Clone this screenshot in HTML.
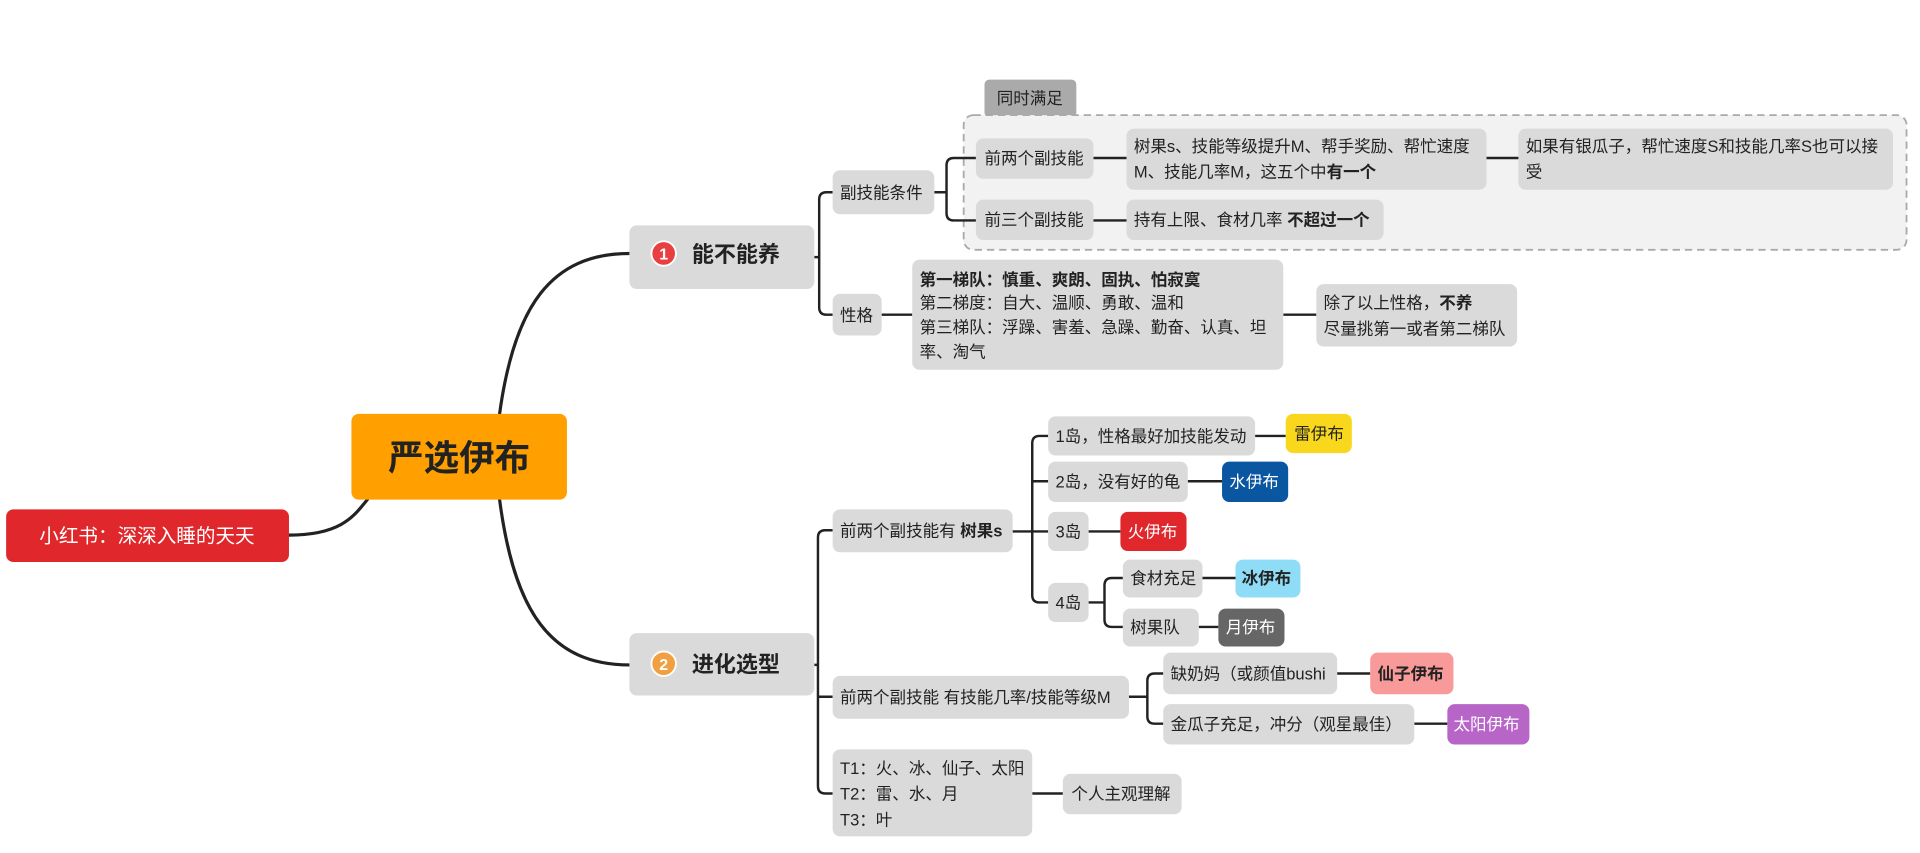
<!DOCTYPE html>
<html><head><meta charset="utf-8"><style>
html,body{margin:0;padding:0;background:#fff;}
svg{display:block;}
text{font-family:"Liberation Sans","Noto Sans CJK SC",sans-serif;fill:#222;font-size:13.5px;}
.b{font-weight:bold;}
.w{fill:#fff;}
</style></head><body>
<svg width="1920" height="853" viewBox="0 0 1568 696.6" xmlns="http://www.w3.org/2000/svg">
<rect width="1568" height="697" fill="#fff"/>
<rect x="804" y="65" width="75" height="31" rx="4" fill="#aaaaaa"/>
<text x="814" y="85">同时满足</text>
<rect x="787" y="94" width="770" height="110" rx="8" fill="#f2f2f2" stroke="#aaa" stroke-width="1.5" stroke-dasharray="6 4"/>
<g fill="none" stroke="#222" stroke-width="2.6" stroke-linecap="round">
<path d="M408 338 C420 250, 450 207, 514 207"/>
<path d="M408 408 C420 500, 450 543, 514 543"/>
<path d="M236 437 C280 437, 290 420, 300 408"/>
</g>
<g fill="none" stroke="#222" stroke-width="2">
<path d="M665 210 H669 M680 157 H675 Q669 157 669 163 V251 Q669 257 675 257 H680"/>
<path d="M763 157 H773 M797 129 H779 Q773 129 773 135 V174 Q773 180 779 180 H797"/>
<path d="M893 129 H920 M1213 129 H1241 M893 180 H920"/>
<path d="M720 257 H745 M1048 257 H1075"/>
<path d="M665 543 H668 M680 433 H674 Q668 433 668 439 V642 Q668 648 674 648 H680 M668 569 H680"/>
<path d="M827 434 H856 M856 356 H849 Q843 356 843 362 V486 Q843 492 849 492 H856 M843 393 H856"/>
<path d="M1025 356 H1050 M970 393 H998 M889 434 H915"/>
<path d="M889 492 H902 M917 472 H908 Q902 472 902 478 V506 Q902 512 908 512 H917 M982 472 H1009 M979 512 H995"/>
<path d="M922 569 H937 M950 550 H943 Q937 550 937 556 V585 Q937 591 943 591 H950 M1092 550 H1119 M1155 591 H1182"/>
<path d="M843 648 H868"/>
</g>
<rect x="287" y="338" width="176" height="70" rx="6" fill="#FFA000"/>
<text x="375" y="384" text-anchor="middle" class="b" style="font-size:29px">严选伊布</text>
<rect x="5" y="416" width="231" height="43" rx="6" fill="#E0282C"/>
<text x="120" y="443" text-anchor="middle" class="w" style="font-size:16px">小红书：深深入睡的天天</text>
<rect x="514" y="184" width="151" height="52" rx="6" fill="#dadada"/>
<circle cx="542" cy="207" r="10" fill="#E84040" stroke="#fff" stroke-width="1.5"/><text x="542" y="212" text-anchor="middle" class="w b" style="font-size:13px">1</text>
<text x="565" y="214" class="b" style="font-size:18px">能不能养</text>
<rect x="514" y="517" width="151" height="51" rx="6" fill="#dadada"/>
<circle cx="542" cy="542" r="10" fill="#F0A040" stroke="#fff" stroke-width="1.5"/><text x="542" y="547" text-anchor="middle" class="w b" style="font-size:13px">2</text>
<text x="565" y="549" class="b" style="font-size:18px">进化选型</text>
<rect x="680" y="139" width="83" height="36" rx="6" fill="#dadada"/><text x="686" y="162">副技能条件</text>
<rect x="797" y="113" width="96" height="33" rx="6" fill="#dadada"/><text x="804" y="134">前两个副技能</text>
<rect x="920" y="105" width="294" height="50" rx="6" fill="#dadada"/>
<text x="926" y="124">树果s、技能等级提升M、帮手奖励、帮忙速度</text>
<text x="926" y="145">M、技能几率M，这五个中<tspan class="b">有一个</tspan></text>
<rect x="1240" y="105" width="306" height="50" rx="6" fill="#dadada"/>
<text x="1246" y="124">如果有银瓜子，帮忙速度S和技能几率S也可以接</text>
<text x="1246" y="145">受</text>
<rect x="797" y="163" width="96" height="33" rx="6" fill="#dadada"/><text x="804" y="184">前三个副技能</text>
<rect x="920" y="163" width="210" height="33" rx="6" fill="#dadada"/><text x="926" y="184">持有上限、食材几率 <tspan class="b">不超过一个</tspan></text>
<rect x="680" y="240" width="40" height="34" rx="6" fill="#dadada"/><text x="686" y="262">性格</text>
<rect x="745" y="212" width="303" height="90" rx="6" fill="#dadada"/>
<text x="751" y="233" class="b">第一梯队：慎重、爽朗、固执、怕寂寞</text>
<text x="751" y="252">第二梯度：自大、温顺、勇敢、温和</text>
<text x="751" y="272">第三梯队：浮躁、害羞、急躁、勤奋、认真、坦</text>
<text x="751" y="292">率、淘气</text>
<rect x="1075" y="232" width="164" height="51" rx="6" fill="#dadada"/>
<text x="1081" y="252">除了以上性格，<tspan class="b">不养</tspan></text>
<text x="1081" y="273">尽量挑第一或者第二梯队</text>
<rect x="680" y="416" width="147" height="35" rx="6" fill="#dadada"/><text x="686" y="438">前两个副技能有 <tspan class="b">树果s</tspan></text>
<rect x="856" y="340" width="169" height="32" rx="6" fill="#dadada"/><text x="862" y="361">1岛，性格最好加技能发动</text>
<rect x="1050" y="338" width="54" height="32" rx="6" fill="#F9D71C"/><text x="1057" y="359">雷伊布</text>
<rect x="856" y="377" width="114" height="33" rx="6" fill="#dadada"/><text x="862" y="398">2岛，没有好的龟</text>
<rect x="998" y="377" width="54" height="33" rx="6" fill="#0A56A0"/><text x="1004" y="398" class="w">水伊布</text>
<rect x="856" y="418" width="33" height="32" rx="6" fill="#dadada"/><text x="862" y="439">3岛</text>
<rect x="915" y="418" width="54" height="32" rx="6" fill="#E0282C"/><text x="921" y="439" class="w">火伊布</text>
<rect x="856" y="476" width="33" height="32" rx="6" fill="#dadada"/><text x="862" y="497">4岛</text>
<rect x="917" y="457" width="65" height="31" rx="6" fill="#dadada"/><text x="923" y="477">食材充足</text>
<rect x="1009" y="457" width="53" height="31" rx="6" fill="#8FDCF7"/><text x="1014" y="477" class="b">冰伊布</text>
<rect x="917" y="497" width="62" height="31" rx="6" fill="#dadada"/><text x="923" y="517">树果队</text>
<rect x="995" y="497" width="54" height="31" rx="6" fill="#666"/><text x="1001" y="517" class="w">月伊布</text>
<rect x="680" y="552" width="242" height="35" rx="6" fill="#dadada"/><text x="686" y="574">前两个副技能 有技能几率/技能等级M</text>
<rect x="950" y="533" width="142" height="34" rx="6" fill="#dadada"/><text x="956" y="555">缺奶妈（或颜值bushi</text>
<rect x="1119" y="533" width="68" height="34" rx="6" fill="#F89A9A"/><text x="1125" y="555" class="b">仙子伊布</text>
<rect x="950" y="575" width="205" height="33" rx="6" fill="#dadada"/><text x="956" y="596">金瓜子充足，冲分（观星最佳）</text>
<rect x="1182" y="575" width="67" height="33" rx="6" fill="#B865C8"/><text x="1187" y="596" class="w">太阳伊布</text>
<rect x="680" y="612" width="163" height="71" rx="6" fill="#dadada"/>
<text x="686" y="632">T1：火、冰、仙子、太阳</text>
<text x="686" y="653">T2：雷、水、月</text>
<text x="686" y="674">T3：叶</text>
<rect x="868" y="632" width="97" height="33" rx="6" fill="#dadada"/><text x="875" y="653">个人主观理解</text>
</svg>
</body></html>
